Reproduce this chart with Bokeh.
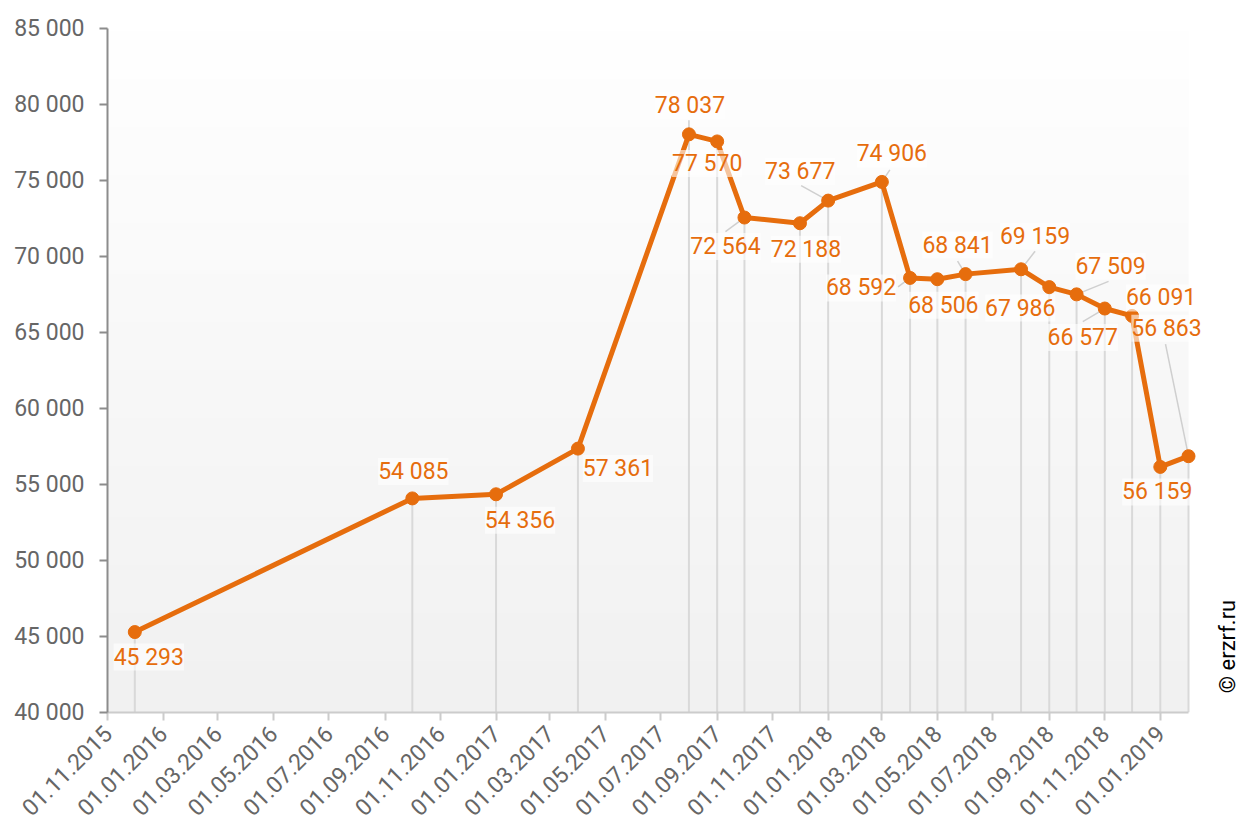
import numpy as np
from datetime import datetime, timezone
from math import pi, atan2, hypot
from bokeh.plotting import figure
from bokeh.core.properties import value
from bokeh.models import (ColumnDataSource, Range1d, FixedTicker,
                          DatetimeTickFormatter, LabelSet, Label)
from bokeh.embed import file_html
from bokeh.resources import INLINE

# ---------------- data ----------------
dates = ["01.12.2015", "01.10.2016", "01.01.2017", "01.04.2017", "01.08.2017",
         "01.09.2017", "01.10.2017", "01.12.2017", "01.01.2018", "01.03.2018",
         "01.04.2018", "01.05.2018", "01.06.2018", "01.08.2018", "01.09.2018",
         "01.10.2018", "01.11.2018", "01.12.2018", "01.01.2019", "01.02.2019"]
values = [45293, 54085, 54356, 57361, 78037, 77570, 72564, 72188, 73677, 74906,
          68592, 68506, 68841, 69159, 67986, 67509, 66577, 66091, 56159, 56863]
y_ticks = [40000, 45000, 50000, 55000, 60000, 65000, 70000, 75000, 80000, 85000]
x_tick_labels = ["01.11.2015", "01.01.2016", "01.03.2016", "01.05.2016", "01.07.2016",
                 "01.09.2016", "01.11.2016", "01.01.2017", "01.03.2017", "01.05.2017",
                 "01.07.2017", "01.09.2017", "01.11.2017", "01.01.2018", "01.03.2018",
                 "01.05.2018", "01.07.2018", "01.09.2018", "01.11.2018", "01.01.2019"]
x_start = "01.11.2015"
x_end = "01.02.2019"
credit = "© erzrf.ru"

# ---------------- label placement (screen px, y down) ----------------
label_dx = [14, 1, 24, 40, 1, -10, -19, 6, -28, 10, -49, 6, -8, 14, -29, 34, -22, 29, -3, -22]
label_dy = [25, -27, 26, 20, -29, 22, 29, 26, -29, -28, 10, 26, -29, -33, 21, -28, 29, -18, 25, -128]
leaders = [None, None, None, None, (0, -14), None, (-19, 14), None, (-27, -15), (8, -12),
           (-12, 9), None, (-8, -13), (14, -18), None, (32, -13), (-22, 13), None, None, (-23, -112)]

# layout (px)
W, H = 1239, 827
LEFT, TOP, BOTTOM = 107, 28, 115
PLOT_W = 1081          # width of the dated area
FRAME_W = W - LEFT     # frame extends to the canvas edge so labels are not clipped


def to_ms(s):
    return datetime.strptime(s, "%d.%m.%Y").replace(tzinfo=timezone.utc).timestamp() * 1000.0


def fmt(v):
    return f"{v:,}".replace(",", " ")


ORANGE = "#e66d0d"
FONT = "Roboto"

xs = [to_ms(d) for d in dates]
src = ColumnDataSource(dict(
    x=xs, y=values, base=[y_ticks[0]] * len(values),
    label=[fmt(v) for v in values],
    xo=label_dx, yo=[-d for d in label_dy],
))

lx, ly, lang, llen = [], [], [], []
for x, v, ld in zip(xs, values, leaders):
    if ld is None:
        continue
    dx, dy = ld
    lx.append(x); ly.append(v)
    lang.append(atan2(-dy, dx)); llen.append(hypot(dx, dy))
lsrc = ColumnDataSource(dict(x=lx, y=ly, a=lang, l=llen))

x0, x1 = to_ms(x_start), to_ms(x_end)
x_far = x0 + (x1 - x0) * FRAME_W / PLOT_W
p = figure(width=W, height=H, output_backend="svg", toolbar_location=None,
           x_axis_type="datetime",
           x_range=Range1d(x0, x_far), y_range=Range1d(y_ticks[0], y_ticks[-1]),
           min_border_left=LEFT, min_border_top=TOP, min_border_right=0,
           min_border_bottom=BOTTOM)
p.outline_line_color = None
p.xgrid.visible = False
p.ygrid.visible = False
p.background_fill_color = "white"
p.border_fill_color = "white"

# gradient background over the dated area
N = 200
img = np.empty((N, 1), dtype=np.uint32)
view = img.view(dtype=np.uint8).reshape((N, 1, 4))
g = np.linspace(241, 255, N).astype(np.uint8)
view[:, 0, 0] = g
view[:, 0, 1] = g
view[:, 0, 2] = g
view[:, 0, 3] = 255
p.image_rgba(image=[img], x=x0, y=y_ticks[0], dw=x1 - x0, dh=y_ticks[-1] - y_ticks[0])

# drop lines
p.segment(x0="x", y0="y", x1="x", y1="base", source=src, line_color="#d9d9d9", line_width=2)
# leader lines
p.ray(x="x", y="y", length="l", angle="a", length_units="screen", source=lsrc,
      line_color="#cfcfcf", line_width=1.5)

p.line(x="x", y="y", source=src, line_color=ORANGE, line_width=5, line_join="round")
p.scatter(x="x", y="y", source=src, size=13, fill_color=ORANGE, line_color=ORANGE)

labels = LabelSet(x="x", y="y", text="label", source=src, x_offset="xo", y_offset="yo",
                  text_align="center", text_baseline="middle",
                  text_font=value(FONT), text_font_size=value("23px"), text_color=ORANGE,
                  background_fill_color="white", background_fill_alpha=0.6)
p.add_layout(labels)

# axes
ya = p.yaxis[0]
ya.ticker = FixedTicker(ticks=y_ticks)
ya.major_label_overrides = {t: fmt(t) for t in y_ticks}
ya.axis_line_color = "#8c8c8c"
ya.axis_line_width = 2
ya.major_tick_line_color = "#8c8c8c"
ya.major_tick_line_width = 2
ya.major_tick_out = 8
ya.major_tick_in = 0
ya.minor_tick_line_color = None
ya.major_label_text_font = FONT
ya.major_label_text_font_size = "23px"
ya.major_label_text_color = "#666666"
ya.major_label_standoff = 15

xa = p.xaxis[0]
xa.bounds = (x0, x1)
xa.ticker = FixedTicker(ticks=[to_ms(d) for d in x_tick_labels])
fmt_str = "%d.%m.%Y"
xa.formatter = DatetimeTickFormatter(milliseconds=fmt_str, seconds=fmt_str, minsec=fmt_str,
                                     minutes=fmt_str, hourmin=fmt_str, hours=fmt_str,
                                     days=fmt_str, months=fmt_str, years=fmt_str)
xa.major_label_orientation = pi / 4
xa.axis_line_color = "#cccccc"
xa.axis_line_width = 2
xa.major_tick_line_color = "#cccccc"
xa.major_tick_line_width = 2
xa.major_tick_out = 8
xa.major_tick_in = 0
xa.minor_tick_line_color = None
xa.major_label_text_font = FONT
xa.major_label_text_font_size = "23px"
xa.major_label_text_color = "#666666"
xa.major_label_standoff = 9

p.add_layout(Label(x=1120, y=66, x_units="screen", y_units="screen", text=credit,
                   angle=pi / 2, text_align="center", text_baseline="middle",
                   text_font=FONT, text_font_size="22px", text_color="black"))

open("out.html", "w").write(file_html(p, INLINE))
